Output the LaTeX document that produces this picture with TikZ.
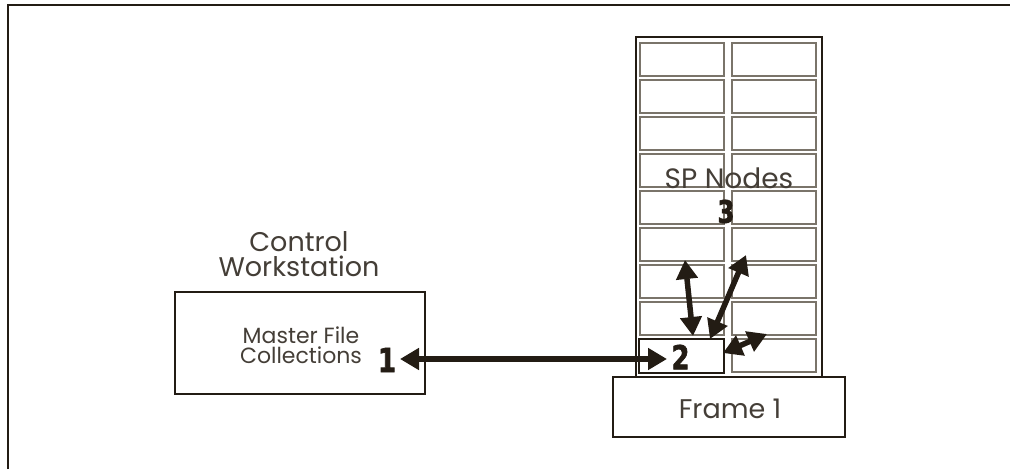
\documentclass[tikz,border=0pt]{standalone}
\usepackage{fontspec}
\setmainfont{Poppins}
\newfontfamily\numfont{DejaVu Sans}[FakeStretch=0.78, FakeBold=2]
\usetikzlibrary{arrows.meta}
\definecolor{dk}{RGB}{35,28,20}
\definecolor{cellgray}{RGB}{122,116,106}
\tikzset{
  cellbox/.style={draw=cellgray, line width=1.3pt, minimum width=84pt, minimum height=33pt, inner sep=0pt},
  lbl/.style={text=dk!85, inner sep=0pt},
  num/.style={text=dk, inner sep=0pt, font=\numfont\bfseries\fontsize{33}{33}\selectfont},
  arr/.style={draw=dk, line width=5.5pt, {Triangle[length=19pt,width=21pt]}-{Triangle[length=19pt,width=21pt]}},
}
\begin{document}
\begin{tikzpicture}[x=1pt,y=-1pt]
\useasboundingbox (0,0) rectangle (1010,469);
% outer frame
\draw[dk, line width=2pt] (8,469) -- (8,5) -- (1010,5);
% rack
\node[draw=dk, line width=2.2pt, minimum width=186pt, minimum height=340pt, inner sep=0pt] (rack) at (729,207) {};
\foreach \i in {0,...,8}{
  \node[cellbox] (r\i) at (774,{59.5+37*\i}) {};
}
\foreach \i in {0,...,7}{
  \node[cellbox] (l\i) at (682,{59.5+37*\i}) {};
}
\node[draw=dk, line width=2pt, minimum width=85pt, minimum height=34pt, inner sep=0pt] (box2) at (681.5,355.5) {};
% frame 1
\node[draw=dk, line width=2pt, minimum width=232pt, minimum height=60pt, inner sep=0pt] (frame) at (729,407) {};
\node[lbl, font=\fontsize{27}{27}\selectfont] (frametxt) at (730,409) {Frame 1};
% control workstation
\node[draw=dk, line width=2pt, minimum width=250pt, minimum height=102pt, inner sep=0pt] (cw) at (300,343) {};
\node[lbl, font=\fontsize{27}{25}\selectfont, align=center] (cwtxt) at (299,254) {Control\\Workstation};
\node[lbl, font=\fontsize{22}{20}\selectfont, align=center] (mfc) at (301,345) {Master File\\Collections};
\node[lbl, font=\fontsize{28}{28}\selectfont] (sp) at (729,178) {SP Nodes};
% numbers
\node[num] (n1) at (387,360) {1};
\node[num] (n2) at (680.5,357) {2};
\node[num, font=\numfont\bfseries\fontsize{31}{31}\selectfont] (n3) at (726,211.5) {3};
% arrows
\coordinate (a1) at (400,359);
\coordinate (a2) at (667,359);
\draw[arr] (a1) -- (a2);
\coordinate (b1) at (685,260);
\coordinate (b2) at (693,336);
\draw[arr] (b1) -- (b2);
\coordinate (c1) at (746,255);
\coordinate (c2) at (710,339);
\draw[arr] (c1) -- (c2);
\coordinate (d1) at (723,353);
\coordinate (d2) at (767,334);
\draw[arr] (d1) -- (d2);
\end{tikzpicture}
\end{document}
